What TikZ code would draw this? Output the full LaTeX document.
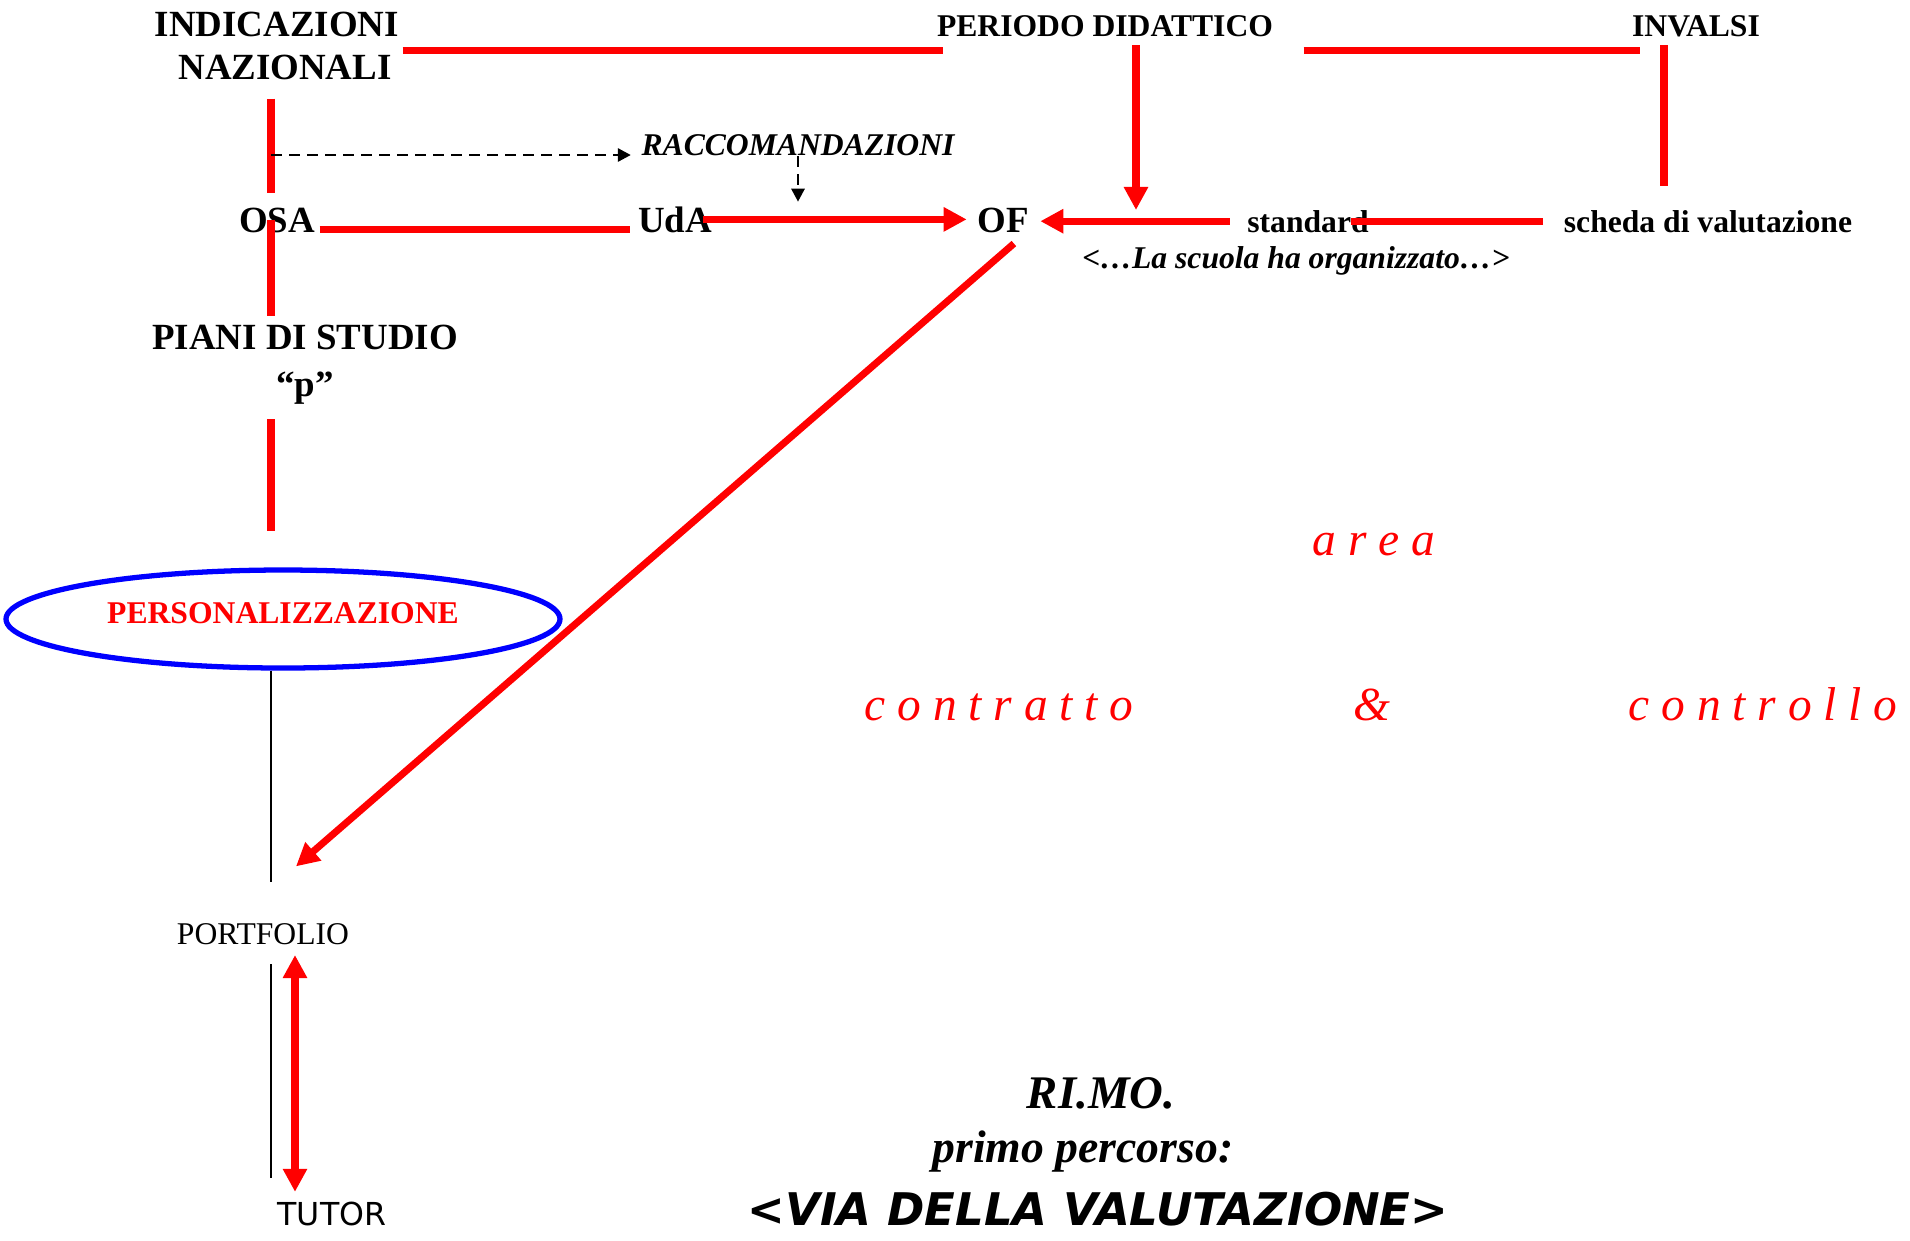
\documentclass[tikz,border=0pt]{standalone}
\usepackage{fontspec}
\setmainfont{Liberation Serif}
\newfontfamily\comicfont{DejaVu Sans}[ItalicFont={DejaVu Sans Oblique},BoldItalicFont={DejaVu Sans Bold Oblique}]
\usetikzlibrary{arrows.meta,shapes.geometric}
\definecolor{vred}{RGB}{255,0,0}
\definecolor{vblue}{RGB}{0,0,255}

\begin{document}
\begin{tikzpicture}
  \tikzstyle{hdr}=[inner sep=0pt,align=center,font=\fontsize{10.5}{12.2}\selectfont\bfseries]
  \tikzstyle{lab}=[inner sep=0pt,anchor=base,font=\fontsize{9}{11}\selectfont\bfseries]
  \tikzstyle{word}=[inner sep=0pt,anchor=base,text=vred,font=\fontsize{13.5}{16}\selectfont\itshape]
  \tikzstyle{title}=[inner sep=0pt,anchor=base,font=\fontsize{13.3}{16}\selectfont\bfseries\itshape]
  \tikzstyle{rline}=[vred,line width=2pt]
  \tikzstyle{rarrow}=[-{Triangle[length=2.3mm,width=2.3mm]},vred,line width=2pt]
  \tikzstyle{darrow}=[-{Triangle[length=1.3mm,width=1.3mm]},black,line width=0.8pt,dash pattern=on 1.1mm off 0.7mm]
  \tikzstyle{bline}=[black,line width=0.6pt]

  \useasboundingbox (0,0) rectangle (19.1,-12.4);
  \coordinate (spine) at (2.71,0);

  % -- top row --
  \node[hdr] (ind) at (2.77,-0.46) {INDICAZIONI\\\hspace*{1.6mm}NAZIONALI};
  \node[lab] (per) at (11.05,-0.36) {PERIODO DIDATTICO};
  \node[lab] (inv) at (16.96,-0.36) {INVALSI};
  \node[lab,font=\fontsize{9}{11}\selectfont\bfseries\itshape] (racc) at (7.98,-1.55) {RACCOMANDAZIONI};

  % -- second row --
  \node[hdr,anchor=base] (osa) at (2.77,-2.32) {OSA};
  \node[hdr,anchor=base] (uda) at (6.75,-2.32) {UdA};
  \node[hdr,anchor=base] (of) at (10.03,-2.32) {OF};
  \node[lab] (std) at (13.08,-2.32) {standard};
  \node[lab] (sch) at (17.08,-2.32) {scheda di valutazione};
  \node[lab,font=\fontsize{9}{11}\selectfont\bfseries\itshape] (scuola) at (12.96,-2.68) {<\dots La scuola ha organizzato\dots>};

  % -- left column --
  \node[hdr,font=\fontsize{10.5}{13.3}\selectfont\bfseries] (piani) at (3.05,-3.65) {PIANI DI STUDIO\\``p''};
  \node[ellipse,draw=vblue,line width=1.5pt,minimum width=5.54cm,minimum height=0.98cm,inner sep=0pt,
    text=vred,font=\fontsize{9}{11}\selectfont\bfseries,text depth=1.2mm] (pers) at (2.83,-6.19) {PERSONALIZZAZIONE};
  \node[lab,font=\fontsize{9}{11}\selectfont] (port) at (2.63,-9.44) {PORTFOLIO};
  \node[lab,font=\comicfont\fontsize{9}{11}\selectfont] (tutor) at (3.32,-12.25) {TUTOR};

  % -- area words --
  \node[word] (area) at (13.74,-5.55) {a r e a};
  \node[word] (contr) at (9.99,-7.20) {c o n t r a t t o};
  \node[word] (amp) at (13.72,-7.20) {\&};
  \node[word] (contl) at (17.63,-7.20) {c o n t r o l l o};

  % -- title --
  \node[title] (rimo) at (11.01,-11.08) {RI.MO.};
  \node[title,font=\fontsize{13}{16}\selectfont\bfseries\itshape] (primo) at (10.83,-11.62) {primo percorso:};
  \node[title,font=\comicfont\fontsize{12.8}{15}\selectfont\bfseries\itshape] (via) at (10.98,-12.25) {<VIA DELLA VALUTAZIONE>};

  % -- red lines --
  \draw[rline,shorten <=0.3mm,shorten >=-0.7mm] ([yshift=-1.2pt]ind.east) -- ([yshift=-1.2pt]ind.east -| per.west);
  \draw[rline,shorten <=3mm,shorten >=-0.9mm] ([yshift=-1.2pt]per.east |- ind.east) -- ([yshift=-1.2pt]inv.west |- ind.east);
  \draw[rline,shorten <=1.8mm,shorten >=1.4mm] (spine |- ind.south) -- (spine |- osa.north);
  \draw[rline,shorten >=0.9mm] (spine |- osa.center) -- (spine |- piani.north);
  \draw[rline,shorten <=1.4mm,shorten >=3.6mm] (spine |- piani.south) -- (spine |- pers.north);
  \draw[rline,shorten <=0.4mm,shorten >=0.7mm] ([yshift=-2.6pt]osa.east) -- ([yshift=-2.6pt]osa.east -| uda.west);
  \draw[rline,shorten <=0.8mm,shorten >=2.3mm] ([xshift=-3.2mm]inv.south) -- ([xshift=-3.2mm]inv.south |- sch.north);
  \draw[rline,shorten <=2mm,shorten >=-1.8mm] (sch.west) -- (sch.west -| std.east);

  % -- red arrows --
  \draw[rarrow,shorten <=-1mm,shorten >=1mm] (uda.east) -- (uda.east -| of.west);
  \draw[rarrow,shorten <=1.7mm,shorten >=1.1mm] (std.west) -- (std.west -| of.east);
  \draw[rarrow,shorten <=0.8mm,shorten >=1mm] ([xshift=3.1mm]per.south) -- ([xshift=3.1mm]per.south |- of.east);
  \draw[rarrow,shorten <=1.6mm] ([xshift=2.3mm]of.south) -- ([xshift=3.3mm,yshift=5.6mm]port.north);
  \draw[rarrow,{Triangle[length=2.3mm,width=2.3mm]}-{Triangle[length=2.3mm,width=2.3mm]},shorten <=1mm,shorten >=0.9mm]
    ([xshift=3.2mm]port.south) -- ([xshift=3.2mm]port.south |- tutor.north);

  % -- raccomandazioni --
  \draw[darrow,shorten >=1mm] (spine |- racc.base west) -- (racc.base west);
  \draw[darrow,shorten >=0.4mm] (racc.south) -- (racc.south |- uda.north);

  % -- thin black lines --
  \draw[bline,shorten >=4mm] (spine |- pers.south) -- (spine |- port.north);
  \draw[bline,shorten <=1.9mm,shorten >=2.3mm] (spine |- port.south) -- (spine |- tutor.north);
\end{tikzpicture}
\end{document}
